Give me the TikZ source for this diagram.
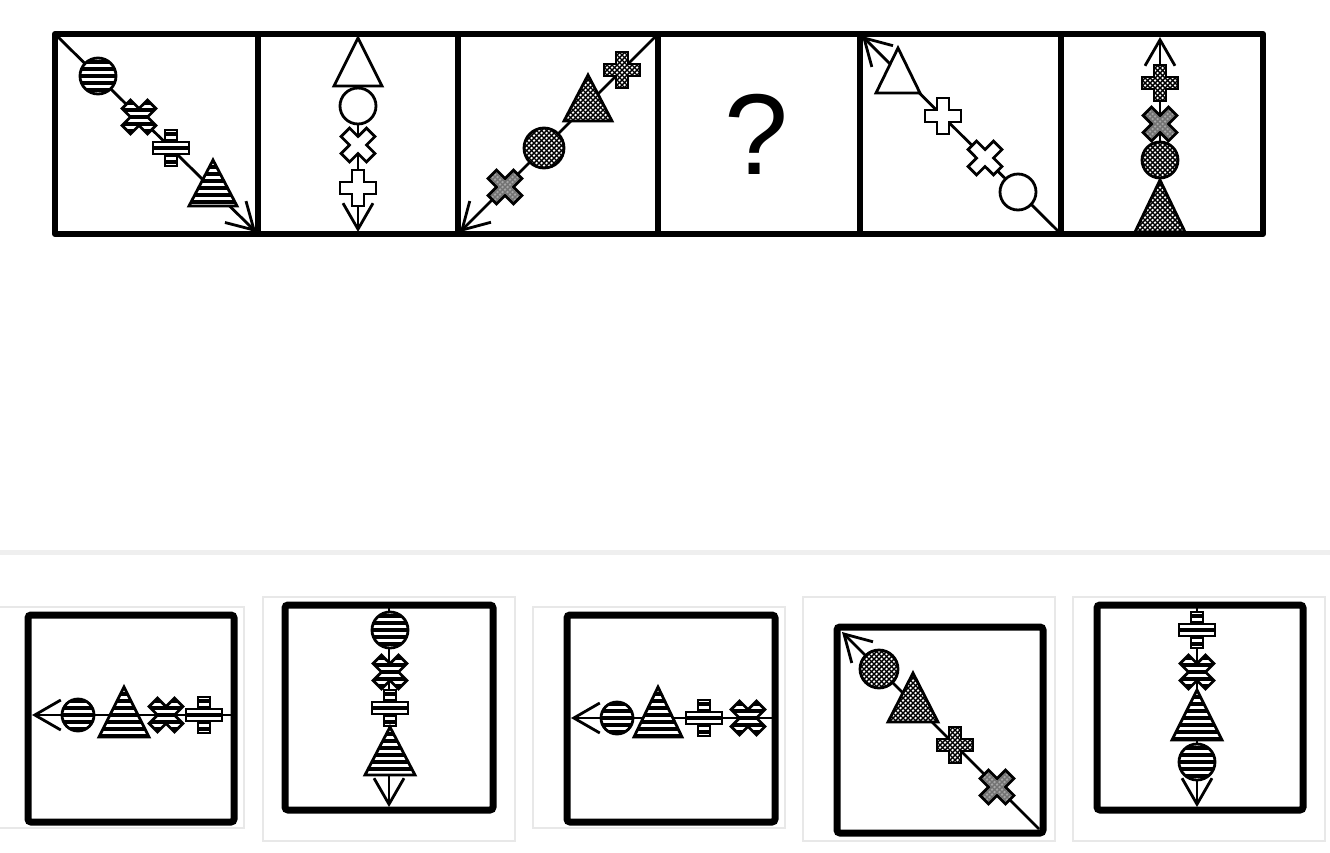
\documentclass[tikz,border=0pt]{standalone}
\usepackage{fontspec}
\newfontfamily\qfont{Liberation Sans}
\usetikzlibrary{arrows.meta}
\definecolor{sepgray}{HTML}{EFEFEF}
\definecolor{boxgray}{HTML}{E8E8E8}
\tikzset{
  shp/.style={draw=black, line width=2.8pt, line join=miter},
  arr/.style={line width=2.8pt, -{Straight Barb[length=26pt,width=30pt]}},
  topframe/.style={line width=6pt, line join=round},
  optframe/.style={line width=7pt, rounded corners=3pt},
  optbox/.style={draw=boxgray, line width=1.5pt},
  hatchline/.style={line width=1.4pt, black},
  grayline/.style={line width=1.4pt, black!55},
}
\newcommand\PLUSP{(-6,-18)--(6,-18)--(6,-6)--(18,-6)--(18,6)--(6,6)--(6,18)--(-6,18)--(-6,6)--(-18,6)--(-18,-6)--(-6,-6)--cycle}
\newcommand\CROSSP{(8.49,-16.97)--(16.97,-8.49)--(8.49,0)--(16.97,8.49)--(8.49,16.97)--(0,8.49)--(-8.49,16.97)--(-16.97,8.49)--(-8.49,0)--(-16.97,-8.49)--(-8.49,-16.97)--(0,-8.49)--cycle}
% white shape
\newcommand\shW[2]{\begin{scope}[shift={#1}]\path[fill=white,shp] #2;\end{scope}}
% horizontal stripes
\newcommand\shH[2]{\begin{scope}[shift={#1}]\fill[white] #2;
  \begin{scope}\clip #2;\foreach \k in {-6,...,10}{\fill[black] (-32,\k*7-1.6) rectangle (32,\k*7+1.6);}\end{scope}
  \path[shp] #2;\end{scope}}
% crosshatch
\newcommand\shX[2]{\begin{scope}[shift={#1}]\fill[white] #2;
  \begin{scope}\clip #2;\foreach \a in {-100,-95,...,100}{\draw[hatchline] (\a-70,-70)--(\a+70,70); \draw[hatchline] (\a-70,70)--(\a+70,-70);}\end{scope}
  \path[shp] #2;\end{scope}}
% gray crosshatch
\newcommand\shG[2]{\begin{scope}[shift={#1}]\fill[gray!70] #2;
  \begin{scope}\clip #2;\foreach \a in {-60,-55,...,60}{\draw[grayline] (\a-40,-40)--(\a+40,40); \draw[grayline] (\a-40,40)--(\a+40,-40);}\end{scope}
  \path[shp] #2;\end{scope}}
\begin{document}
\begin{tikzpicture}[x=1pt,y=-1pt]
\useasboundingbox (0,0) rectangle (1330,852);
\fill[white] (0,0) rectangle (1330,852);

% ---------- panel 1 ----------
\coordinate (p1s) at (57,36); \coordinate (p1e) at (256,232);
\draw[arr] (p1s) -- (p1e);
\shH{(98,76)}{(0,0) circle[radius=18]}
\shH{(139,117)}{\CROSSP}
\shH{(171,148)}{\PLUSP}
\shH{(213,160)}{(0,0)--(24,46)--(-24,46)--cycle}

% ---------- panel 2 ----------
\coordinate (p2s) at (358,36); \coordinate (p2e) at (358,232);
\draw[arr] (p2s) -- (p2e);
\shW{(358,38)}{(0,0)--(24,48)--(-24,48)--cycle}
\shW{(358,106)}{(0,0) circle[radius=18]}
\shW{(358,145)}{\CROSSP}
\shW{(358,188)}{\PLUSP}

% ---------- panel 3 ----------
\coordinate (p3s) at (656,36); \coordinate (p3e) at (460,232);
\draw[arr] (p3s) -- (p3e);
\shG{(505,187)}{\CROSSP}
\shX{(544,148)}{(0,0) circle[radius=20]}
\shX{(588,75)}{(0,0)--(24,46)--(-24,46)--cycle}
\shX{(622,70)}{\PLUSP}

% ---------- panel 4 ----------
\node[inner sep=0pt, font=\qfont\fontsize{115}{115}\selectfont] (q) at (756,134) {?};

% ---------- panel 5 ----------
\coordinate (p5s) at (1059,232); \coordinate (p5e) at (862,36);
\draw[arr] (p5s) -- (p5e);
\shW{(898,48)}{(0,0)--(22,45)--(-22,45)--cycle}
\shW{(943,116)}{\PLUSP}
\shW{(985,158)}{\CROSSP}
\shW{(1018,192)}{(0,0) circle[radius=18]}

% ---------- panel 6 ----------
\coordinate (p6s) at (1160,232); \coordinate (p6e) at (1160,37);
\draw[arr] (p6s) -- (p6e);
\shX{(1160,180)}{(0,0)--(25,52)--(-25,52)--cycle}
\shX{(1160,160)}{(0,0) circle[radius=18]}
\shG{(1160,124)}{\CROSSP}
\shX{(1160,83)}{\PLUSP}

% top frame
\draw[topframe] (55,34) rectangle (1263,234);
\foreach \xx in {258,458,658,860,1061} \draw[topframe] (\xx,34) -- (\xx,234);

% separator
\draw[sepgray, line width=5pt] (0,552) -- (1330,552);

% ---------- option 1 ----------
\draw[optbox] (-2,607) rectangle (244,828);
\coordinate (o1s) at (231,715); \coordinate (o1e) at (32,715);
\draw[arr] (o1s) -- (o1e);
\shH{(78,715)}{(0,0) circle[radius=16]}
\shH{(124,687)}{(0,0)--(25,50)--(-25,50)--cycle}
\shH{(166,715)}{\CROSSP}
\shH{(204,715)}{\PLUSP}
\draw[optframe] (28,615) rectangle (234,822);

% ---------- option 2 ----------
\draw[optbox] (263,597) rectangle (515,841);
\coordinate (o2s) at (389,608); \coordinate (o2e) at (389,807);
\draw[arr] (o2s) -- (o2e);
\shH{(390,630)}{(0,0) circle[radius=18]}
\shH{(390,672)}{\CROSSP}
\shH{(390,708)}{\PLUSP}
\shH{(390,727)}{(0,0)--(25,48)--(-25,48)--cycle}
\draw[optframe] (285,605) rectangle (493,810);

% ---------- option 3 ----------
\draw[optbox] (533,607) rectangle (785,828);
\coordinate (o3s) at (772,718); \coordinate (o3e) at (571,718);
\draw[arr] (o3s) -- (o3e);
\shH{(617,718)}{(0,0) circle[radius=16]}
\shH{(658,687)}{(0,0)--(24,50)--(-24,50)--cycle}
\shH{(704,718)}{\PLUSP}
\shH{(748,718)}{\CROSSP}
\draw[optframe] (567,615) rectangle (775,822);

% ---------- option 4 ----------
\draw[optbox] (803,597) rectangle (1055,841);
\coordinate (o4s) at (1039,829); \coordinate (o4e) at (842,632);
\draw[arr] (o4s) -- (o4e);
\shX{(879,669)}{(0,0) circle[radius=19]}
\shX{(913,673)}{(0,0)--(25,49)--(-25,49)--cycle}
\shX{(955,745)}{\PLUSP}
\shG{(997,787)}{\CROSSP}
\draw[optframe] (837,627) rectangle (1043,833);

% ---------- option 5 ----------
\draw[optbox] (1073,597) rectangle (1325,841);
\coordinate (o5s) at (1197,608); \coordinate (o5e) at (1197,807);
\draw[arr] (o5s) -- (o5e);
\shH{(1197,630)}{\PLUSP}
\shH{(1197,672)}{\CROSSP}
\shH{(1197,690)}{(0,0)--(25,50)--(-25,50)--cycle}
\shH{(1197,762)}{(0,0) circle[radius=18]}
\draw[optframe] (1097,605) rectangle (1303,810);
\end{tikzpicture}
\end{document}
